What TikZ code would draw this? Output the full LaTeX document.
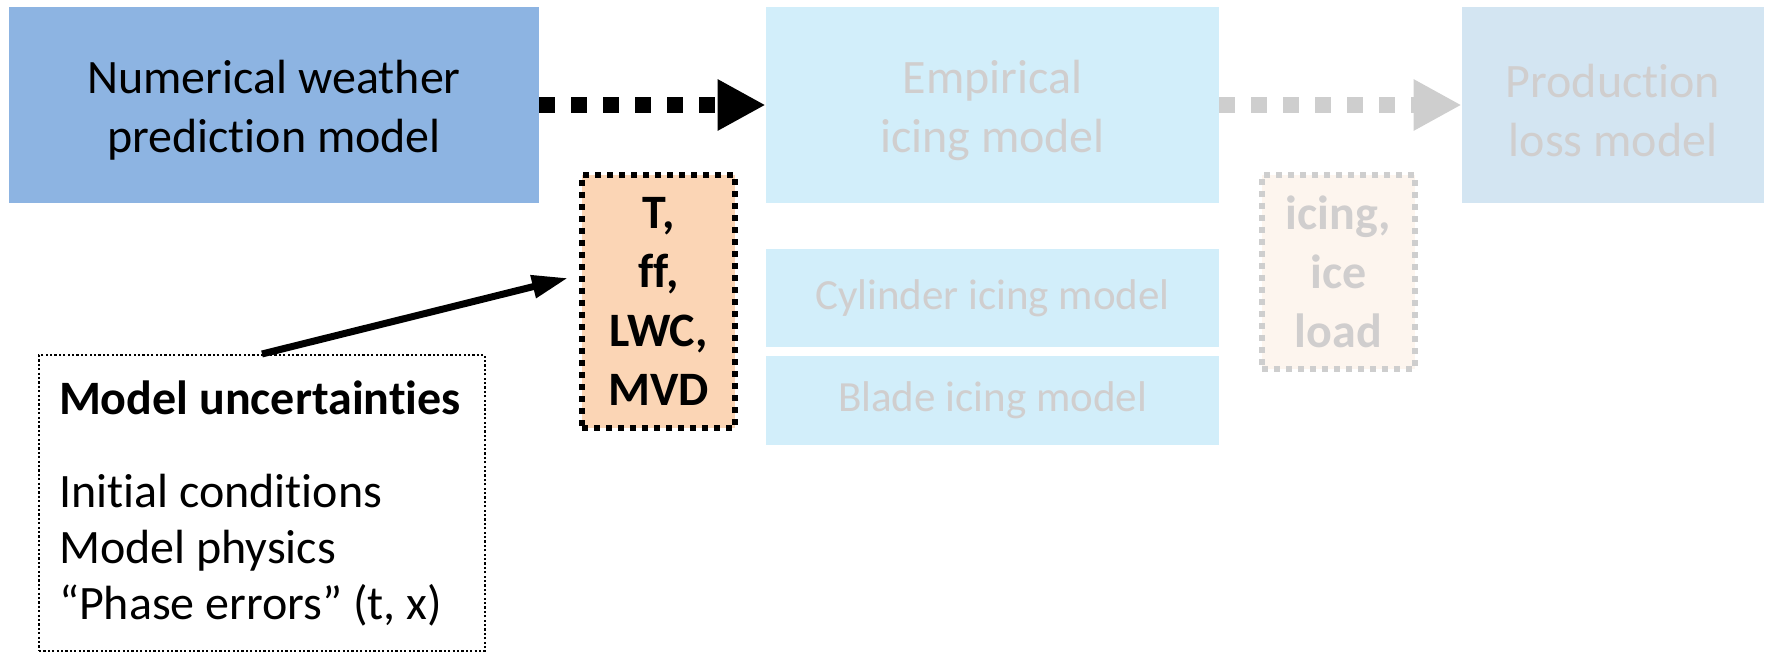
\documentclass[tikz,border=0pt]{standalone}
\usepackage{fontspec}
\setmainfont{Carlito}[Ligatures=NoCommon]
\usetikzlibrary{arrows.meta,calc}
\definecolor{nwpblue}{RGB}{141,180,226}
\definecolor{empblue}{RGB}{210,238,250}
\definecolor{prodblue}{RGB}{211,229,242}
\definecolor{peach}{RGB}{251,213,181}
\definecolor{icefill}{RGB}{253,245,238}
\definecolor{fadegrey}{RGB}{208,206,206}
\definecolor{arrowgrey}{RGB}{206,206,206}
\newcommand{\topstrut}{\rule{0pt}{22pt}}
\tikzset{
  box/.style={rectangle, inner sep=0pt, align=center, font=\fontsize{24}{29.5}\selectfont},
  mainbox/.style={box, minimum height=98pt},
  subbox/.style={box, fill=empblue, text=fadegrey, minimum width=226.5pt, font=\fontsize{21.5}{26}\selectfont},
  varbox/.style={box, fill=peach, draw=black, line width=2.6pt, dash pattern=on 3pt off 3pt, font=\bfseries\fontsize{24}{29.5}\selectfont},
  bigarrow/.style={line width=8pt, dash pattern=on 8pt off 8pt, -{Triangle[length=24pt,width=24pt]}},
}
\begin{document}
\begin{tikzpicture}[x=0.5pt,y=-0.5pt]
\useasboundingbox (0,0) rectangle (1767,652);
% main row
\node[mainbox, fill=nwpblue, minimum width=265pt] (nwp) at (274,105) {\topstrut Numerical weather\\prediction model};
\node[mainbox, fill=empblue, text=fadegrey, minimum width=226.5pt] (emp) at (992.5,105) {\topstrut Empirical\\icing model};
\node[mainbox, fill=prodblue, text=fadegrey, minimum width=151pt] (prod) at (1613,105) {\topstrut Production\\loss model};
% sub models
\node[subbox, minimum height=49pt] (cyl) at (992.5,298) {Cylinder icing model};
\node[subbox, minimum height=44.5pt] (blade) at (992.5,400.5) {Blade icing model};
% variable boxes
\node[varbox, minimum width=76.5pt, minimum height=126.5pt] (vars) at (658.5,301.5) {T,\\ff,\\LWC,\\MVD};
\node[varbox, fill=icefill, draw=arrowgrey, text=fadegrey, minimum width=76.5pt, minimum height=97pt] (ice) at (1338.5,272) {icing,\\ice\\load};
% uncertainties
\node[rectangle, draw=black, line width=1pt, dash pattern=on 1.1pt off 1.1pt, inner sep=0pt,
      minimum width=223pt, minimum height=148pt] (mu) at (262,503)
  {\parbox[c]{203pt}{\raggedright\fontsize{24}{28}\selectfont
   \textbf{Model uncertainties}\\[18.5pt]Initial conditions\\Model physics\\“Phase errors” (t, x)}};
% arrows
\draw[bigarrow, black] (nwp.east) -- (emp.west);
\draw[bigarrow, arrowgrey] (emp.east) -- (prod.west);
\coordinate (tip) at (568,278);
\draw[line width=3.5pt, -{Triangle[length=18pt,width=11pt]}] (mu.north) -- (tip);
\end{tikzpicture}
\end{document}
